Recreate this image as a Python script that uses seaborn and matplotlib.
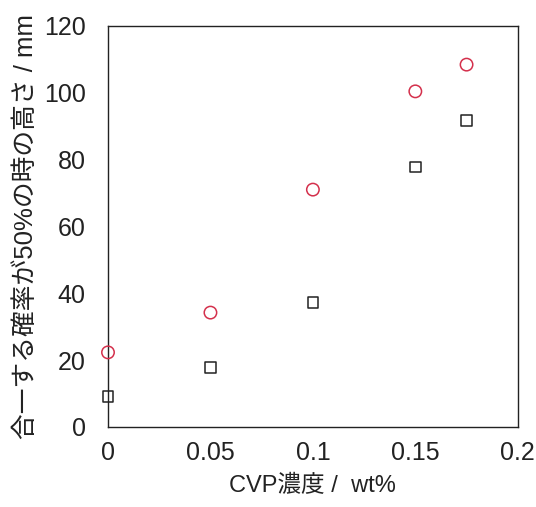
import matplotlib
matplotlib.use("Agg")
import matplotlib.pyplot as plt
import seaborn as sns

# CVP concentration (wt%) and heights (mm)
cvp = [0.0, 0.05, 0.10, 0.15, 0.175]
height_circle = [22.3, 34.2, 71.0, 100.4, 108.4]
height_square = [9.1, 17.8, 37.3, 77.8, 91.7]

x_ticks = [0, 0.05, 0.1, 0.15, 0.2]
x_tick_labels = ["0", "0.05", "0.1", "0.15", "0.2"]
y_ticks = [0, 20, 40, 60, 80, 100, 120]

sns.set_theme(style="white")
plt.rcParams['font.family'] = ['Liberation Sans', 'Noto Sans CJK JP', 'DejaVu Sans']

fig = plt.figure(figsize=(5.36, 5.07), dpi=100)
ax = fig.add_axes([0.2015, 0.158, 0.7645, 0.791])

sns.scatterplot(x=cvp, y=height_circle, ax=ax, marker='o', s=80,
                facecolors='none', edgecolor='#d4304c', linewidth=1.1,
                clip_on=False, zorder=3)
sns.scatterplot(x=cvp, y=height_square, ax=ax, marker='s', s=58,
                facecolors='none', edgecolor='#222222', linewidth=1.1,
                clip_on=False, zorder=3)

ax.set_xlim(0, 0.2)
ax.set_ylim(0, 120)
ax.set_xticks(x_ticks)
ax.set_xticklabels(x_tick_labels)
ax.set_yticks(y_ticks)
ax.tick_params(axis='both', direction='in', length=5, width=0.8,
               labelsize=18, colors='#222222')
ax.tick_params(axis='y', pad=16)
ax.tick_params(axis='x', pad=10)
for sp in ax.spines.values():
    sp.set_color('#222222')
    sp.set_linewidth(1.0)

ax.set_xlabel('CVP濃度 /  wt%', fontsize=17, color='#222222', labelpad=7)
ax.set_ylabel('合一する確率が50%の時の高さ / mm', fontsize=18.5, color='#222222', labelpad=4)

fig.savefig('out.png', dpi=100)
